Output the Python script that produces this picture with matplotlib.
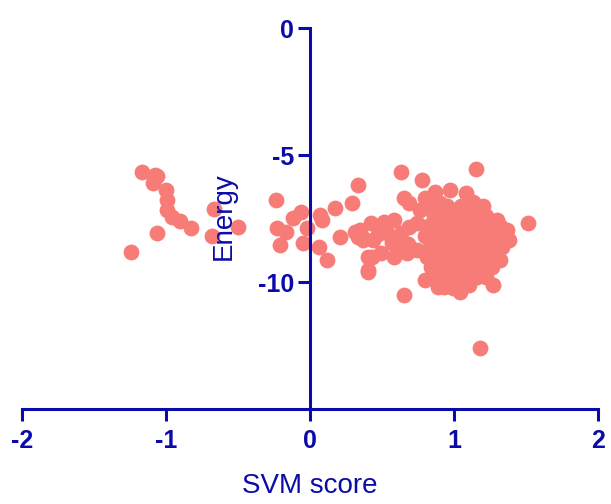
import matplotlib
matplotlib.use("Agg")
import matplotlib.pyplot as plt

# Data
svm_left = [-1.17, -1.08, -1.06, -1.09, -1.00, -0.99, -0.99, -0.96, -0.90, -0.83,
            -1.06, -1.24, -0.67, -0.68, -0.50]
energy_left = [-5.67, -5.79, -5.83, -6.10, -6.38, -6.77, -7.17, -7.44, -7.60, -7.87,
               -8.07, -8.82, -7.13, -8.19, -7.83]

svm_mid = [-0.24, -0.23, -0.17, -0.21, -0.12, -0.06, -0.02, -0.05, 0.06, 0.07,
           0.08, 0.17, 0.12, 0.29, 0.33, 0.21, 0.31, 0.37, 0.40, 0.40,
           0.33, 0.35, 0.37, 0.43, 0.40]
energy_mid = [-6.77, -7.87, -8.03, -8.54, -7.48, -7.24, -7.87, -8.46, -8.62, -7.36,
              -7.56, -7.09, -9.13, -6.89, -6.18, -8.23, -8.03, -8.27, -9.02, -9.53,
              -8.23, -7.95, -8.35, -9.02, -9.60]

svm_right = [0.63, 0.78, 1.15, 0.87, 0.97, 1.08, 0.65, 0.69, 0.76, 0.90,
             1.30, 1.37, 1.38, 1.51, 1.32, 1.27, 0.89, 0.99, 1.04, 0.65,
             1.18, 0.42, 0.51, 0.58, 0.44, 0.56, 0.63, 0.69, 0.74, 0.49,
             0.58, 0.67, 0.74, 0.68, 0.57, 0.85, 0.47, 0.53, 0.61, 0.80,
             1.13, 1.18, 0.80, 0.84]
energy_right = [-5.67, -5.98, -5.55, -6.46, -6.38, -6.50, -6.69, -6.90, -7.17, -6.90,
                -7.56, -7.95, -8.35, -7.68, -9.13, -10.10, -10.20, -10.24, -10.40, -10.50,
                -12.60, -7.68, -7.64, -7.56, -8.35, -8.23, -8.07, -7.83, -7.68, -8.86,
                -9.02, -8.86, -8.74, -8.50, -8.45, -9.41, -8.10, -8.00, -8.60, -9.90,
                -6.85, -7.48, -6.70, -7.10]

svm_blob = [0.95, 1.05, 1.12, 1.20,
            0.86, 0.93, 1.00, 1.08, 1.15, 1.22,
            0.82, 0.90, 0.97, 1.04, 1.11, 1.18, 1.25, 1.32,
            0.80, 0.87, 0.94, 1.01, 1.08, 1.15, 1.22, 1.29, 1.36,
            0.83, 0.90, 0.97, 1.04, 1.11, 1.18, 1.25, 1.33,
            0.81, 0.88, 0.95, 1.02, 1.09, 1.16, 1.23, 1.30,
            0.84, 0.91, 0.98, 1.05, 1.12, 1.19, 1.26,
            0.88, 0.95, 1.02, 1.09, 1.16, 1.22,
            0.93, 1.03, 1.10,
            0.99, 1.06, 0.92, 1.13, 1.20, 1.01, 1.07, 0.96, 1.14, 1.24]
energy_blob = [-7.0, -7.0, -7.0, -7.0,
               -7.4, -7.4, -7.4, -7.4, -7.4, -7.4,
               -7.8, -7.8, -7.8, -7.8, -7.8, -7.8, -7.8, -7.8,
               -8.2, -8.2, -8.2, -8.2, -8.2, -8.2, -8.2, -8.2, -8.2,
               -8.6, -8.6, -8.6, -8.6, -8.6, -8.6, -8.6, -8.6,
               -9.0, -9.0, -9.0, -9.0, -9.0, -9.0, -9.0, -9.0,
               -9.4, -9.4, -9.4, -9.4, -9.4, -9.4, -9.4,
               -9.8, -9.8, -9.8, -9.8, -9.8, -9.8,
               -10.2, -10.2, -10.1,
               -7.6, -8.0, -8.4, -8.8, -8.4, -9.2, -9.6, -9.2, -7.2, -9.1]

svm = svm_left + svm_mid + svm_right + svm_blob
energy = energy_left + energy_mid + energy_right + energy_blob

x_ticks = [-2, -1, 0, 1, 2]
y_ticks = [0, -5, -10]

blue = "#0B0BAA"
dot = "#F77C78"

plt.rcParams["font.family"] = ["Liberation Sans", "DejaVu Sans"]

fig = plt.figure(figsize=(6.11, 5.04), dpi=100)
ax = fig.add_axes([0.036, 0.1885, 0.943, 0.7556])

ax.scatter(svm, energy, s=130, color=dot, linewidths=0, zorder=1)

ax.set_xlim(-2, 2)
ax.set_ylim(-15, 0)

for s in ["top", "right"]:
    ax.spines[s].set_visible(False)
ax.spines["left"].set_position(("data", 0))
for s in ["left", "bottom"]:
    ax.spines[s].set_color(blue)
    ax.spines[s].set_linewidth(2.2)
    ax.spines[s].set_zorder(3)

ax.set_xticks(x_ticks)
ax.set_yticks(y_ticks)
ax.set_xticklabels([str(t) for t in x_ticks])
ax.set_yticklabels([str(t) for t in y_ticks])
ax.tick_params(axis="both", colors=blue, width=2.2, length=8.5, direction="out",
               labelsize=18)
ax.tick_params(axis="x", pad=6)
ax.tick_params(axis="y", pad=3)
for lab in ax.get_xticklabels() + ax.get_yticklabels():
    lab.set_fontweight("bold")
    lab.set_color(blue)

ax.set_xlabel("SVM score", fontsize=20, color=blue, labelpad=14)
ax.set_ylabel("Energy", fontsize=20, color=blue)
ax.yaxis.set_label_coords(0.373, 0.507)
ax.patch.set_alpha(0)

fig.savefig("out.png", dpi=100)
